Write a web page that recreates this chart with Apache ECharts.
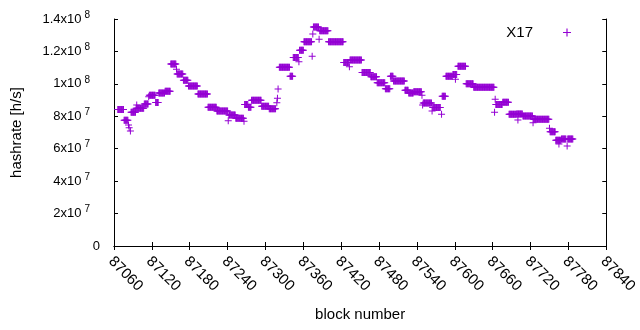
<!DOCTYPE html>
<html><head><meta charset="utf-8">
<script src="https://cdn.jsdelivr.net/npm/echarts@6/dist/echarts.min.js"></script>
<style>html,body{margin:0;padding:0;background:#fff}#c{width:640px;height:330px}</style>
</head><body><div id="c"></div>
<script>
// ---- data ----
const seriesName = 'X17';
const xTitle = 'block number';
const yTitle = 'hashrate [h/s]';
// runs of consecutive blocks sharing the same hashrate value
const runStart = [87066,87076,87083,87084,87086,87087,87095,87096,87108,87115,87116,87126,87131,87141,87150,87159,87160,87170,87178,87193,87209,87223,87241,87242,87253,87266,87267,87273,87278,87294,87306,87318,87319,87320,87322,87339,87344,87353,87354,87361,87374,87375,87376,87385,87386,87400,87424,87433,87434,87453,87467,87477,87490,87498,87503,87521,87527,87535,87548,87549,87550,87564,87565,87579,87580,87586,87597,87601,87605,87618,87630,87663,87664,87665,87676,87686,87698,87700,87708,87724,87725,87750,87751,87760,87765,87769,87778,87779];
const runEnd   = [87075,87082,87083,87084,87086,87094,87107,87096,87114,87115,87125,87130,87140,87149,87158,87159,87169,87177,87192,87208,87222,87240,87241,87252,87265,87266,87272,87277,87293,87305,87316,87318,87319,87320,87338,87343,87352,87353,87360,87373,87374,87375,87384,87385,87399,87423,87432,87433,87452,87466,87476,87489,87497,87502,87520,87526,87534,87547,87548,87549,87563,87564,87577,87579,87585,87596,87603,87601,87617,87629,87662,87663,87664,87675,87685,87697,87707,87700,87723,87724,87749,87750,87759,87768,87765,87776,87778,87787];
const runValue = [8.42e7,7.75e7,7.46e7,7.30e7,7.09e7,8.25e7,8.49e7,8.70e7,8.76e7,9.20e7,9.30e7,8.85e7,9.44e7,9.54e7,11.23e7,10.90e7,10.61e7,10.22e7,9.87e7,9.38e7,8.56e7,8.33e7,7.73e7,8.08e7,7.88e7,7.70e7,8.73e7,8.55e7,8.99e7,8.62e7,8.47e7,8.84e7,9.11e7,9.69e7,11.02e7,10.47e7,11.62e7,11.37e7,12.07e7,12.60e7,11.70e7,13.08e7,13.50e7,12.75e7,13.28e7,12.60e7,11.32e7,11.06e7,11.47e7,10.70e7,10.44e7,10.07e7,9.70e7,10.47e7,10.18e7,9.60e7,9.44e7,9.52e7,9.30e7,8.70e7,8.82e7,8.33e7,8.54e7,8.12e7,9.24e7,10.47e7,10.58e7,10.28e7,11.08e7,10.01e7,9.79e7,8.25e7,9.05e7,8.73e7,8.86e7,8.12e7,8.14e7,7.77e7,8.02e7,7.60e7,7.81e7,7.26e7,7.05e7,6.52e7,6.29e7,6.60e7,6.17e7,6.60e7];
const xMin = 87060, xMax = 87840, xStep = 60;
const yMin = 0, yMax = 1.4e8, yStep = 2e7;

// ---- build points: one per block in each run ----
const points = [];
for (let i = 0; i < runStart.length; i++) {
  for (let b = runStart[i]; b <= runEnd[i]; b++) points.push([b, runValue[i]]);
}

const FONT = 'Liberation Sans';
const PLUS = 'path://M6,0h2v6h6v2h-6v6h-2v-6h-6v-2h6z';
const COLOR = '#9400d3';

function yFmt(v) {
  if (v === 0) return '{z|0}';
  const e = Math.floor(Math.log10(v) + 1e-9);
  const m = Math.round(v / Math.pow(10, e) * 10) / 10;
  return '{m|' + m + 'x10}{e|' + e + '}';
}

const chart = echarts.init(document.getElementById('c'), null, {renderer: 'canvas'});
chart.setOption({
  animation: false,
  backgroundColor: '#fff',
  textStyle: {fontFamily: FONT, color: '#000'},
  grid: {left: 114, right: 31, top: 19, bottom: 84, containLabel: false},
  legend: {
    right: 64, top: 20, align: 'right', itemWidth: 8, itemHeight: 8,
    data: [{name: seriesName, icon: PLUS}],
    textStyle: {fontFamily: FONT, fontSize: 15, color: '#000', padding: [0, 25, 0, 0]}
  },
  xAxis: [{
    type: 'value', min: xMin, max: xMax, interval: xStep,
    name: xTitle, nameLocation: 'middle', nameGap: 61,
    nameTextStyle: {fontFamily: FONT, fontSize: 15, color: '#000'},
    axisLine: {show: true, lineStyle: {color: '#000', width: 1}},
    axisTick: {show: true, inside: true, length: 4, lineStyle: {color: '#000'}},
    axisLabel: {rotate: -45, margin: 10, color: '#000',
      showMinLabel: true, showMaxLabel: true, formatter: v => '{t|' + v + '}',
      rich: {t: {fontFamily: FONT, fontSize: 15, color: '#000', padding: [9, 0, 0, 0]}}},
    splitLine: {show: false}
  }, {
    type: 'value', min: xMin, max: xMax, interval: xStep, position: 'top',
    axisLine: {show: true, lineStyle: {color: '#000', width: 1}},
    axisTick: {show: true, inside: true, length: 4, lineStyle: {color: '#000'}},
    axisLabel: {show: false}, splitLine: {show: false}
  }],
  yAxis: [{
    type: 'value', min: yMin, max: yMax, interval: yStep,
    name: yTitle, nameLocation: 'middle', nameGap: 90, nameRotate: 90,
    nameTextStyle: {fontFamily: FONT, fontSize: 15, color: '#000'},
    axisLine: {show: true, lineStyle: {color: '#000', width: 1}},
    axisTick: {show: true, inside: true, length: 4, lineStyle: {color: '#000'}},
    axisLabel: {
      margin: 14, formatter: yFmt,
      rich: {
        z: {fontFamily: FONT, fontSize: 13, color: '#000'},
        m: {fontFamily: FONT, fontSize: 13, color: '#000'},
        e: {fontFamily: FONT, fontSize: 10, color: '#000', padding: [0, 10, 8, 3]}
      }
    },
    splitLine: {show: false}
  }, {
    type: 'value', min: yMin, max: yMax, interval: yStep, position: 'right',
    axisLine: {show: true, lineStyle: {color: '#000', width: 1}},
    axisTick: {show: true, inside: true, length: 4, lineStyle: {color: '#000'}},
    axisLabel: {show: false}, splitLine: {show: false}
  }],
  series: [{
    name: seriesName, type: 'scatter', data: points,
    symbol: PLUS, symbolSize: 7,
    itemStyle: {color: COLOR, opacity: 1},
    emphasis: {disabled: true}
  }]
});
</script>
</body></html>
